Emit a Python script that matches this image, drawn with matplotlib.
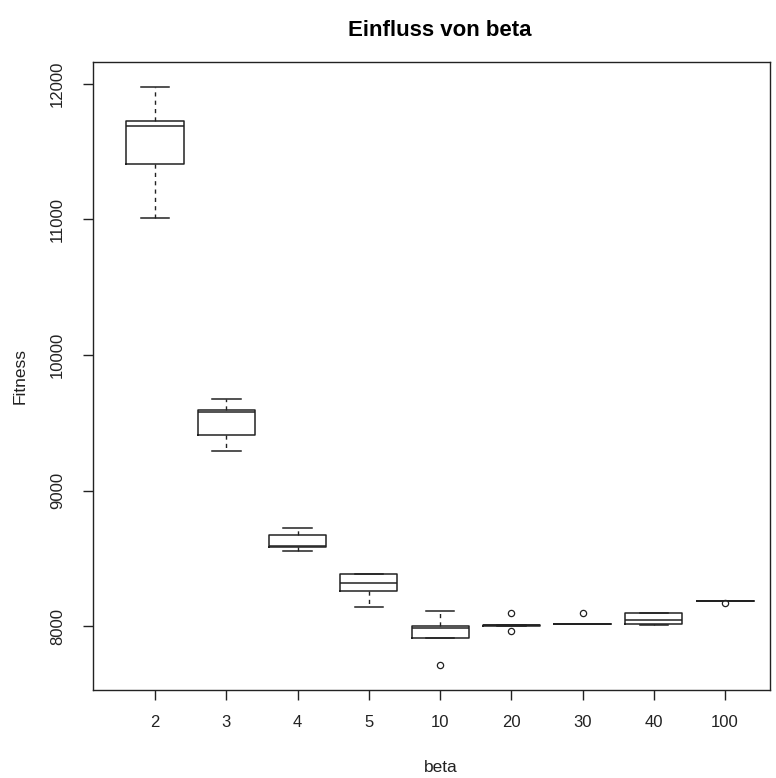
import matplotlib
matplotlib.use("Agg")
import matplotlib.pyplot as plt

# beta groups and the box statistics
beta = ["2", "3", "4", "5", "10", "20", "30", "40", "100"]
whislo = [11010, 9292, 8557, 8143, 7909, 8000, 8013, 8010, 8187]
q1 = [11410, 9407, 8583, 8256, 7909, 8002, 8014, 8017, 8187]
med = [11692, 9579, 8590, 8317, 7985, 8005, 8015, 8042, 8187]
q3 = [11729, 9594, 8672, 8382, 8000, 8008, 8016, 8096, 8187]
whishi = [11978, 9673, 8726, 8382, 8113, 8010, 8017, 8096, 8187]
fliers = [[], [], [], [], [7712], [8099, 7965], [8099], [], [8167]]

stats = []
for i in range(len(beta)):
    stats.append(dict(label=beta[i], whislo=whislo[i], q1=q1[i], med=med[i],
                      q3=q3[i], whishi=whishi[i], fliers=fliers[i]))

plt.rcParams['font.family'] = ['Liberation Sans', 'DejaVu Sans']

fig = plt.figure(figsize=(7.76, 7.78), dpi=100)
ax = fig.add_axes([93/776, 1 - 690/778, (770 - 93)/776, (690 - 62)/778])

lc = "#222222"
ax.bxp(stats, widths=0.8, showfliers=True,
       boxprops=dict(color=lc, linewidth=1.1),
       medianprops=dict(color=lc, linewidth=1.1),
       whiskerprops=dict(color=lc, linewidth=1.0, linestyle=(0, (3, 3))),
       capprops=dict(color=lc, linewidth=1.1),
       capwidths=0.4,
       flierprops=dict(marker="o", markersize=4.5, markerfacecolor="white",
                       markeredgecolor=lc, markeredgewidth=0.9))

ax.set_xlim(0.13, 9.63)
ax.set_ylim(7528, 12162)
ax.set_yticks([8000, 9000, 10000, 11000, 12000])
ax.set_yticklabels(["8000", "9000", "10000", "11000", "12000"],
                   rotation=90, va="center")
ax.tick_params(axis="both", direction="out", length=7, width=1,
               labelsize=12, color=lc, labelcolor="#222222")
ax.tick_params(axis="y", pad=13)
ax.tick_params(axis="x", pad=11)
for s in ax.spines.values():
    s.set_color(lc)
    s.set_linewidth(1.0)

fig.text(440/776, 1 - 30/778, "Einfluss von beta", ha="center", va="center",
         fontsize=16, fontweight="bold")
fig.text(441/776, 1 - 767/778, "beta", ha="center", va="center", fontsize=12.5,
         color="#222222")
fig.text(20/776, 1 - 376/778, "Fitness", ha="center", va="center",
         rotation=90, fontsize=12.5, color="#222222")

fig.savefig("out.png", dpi=100)
